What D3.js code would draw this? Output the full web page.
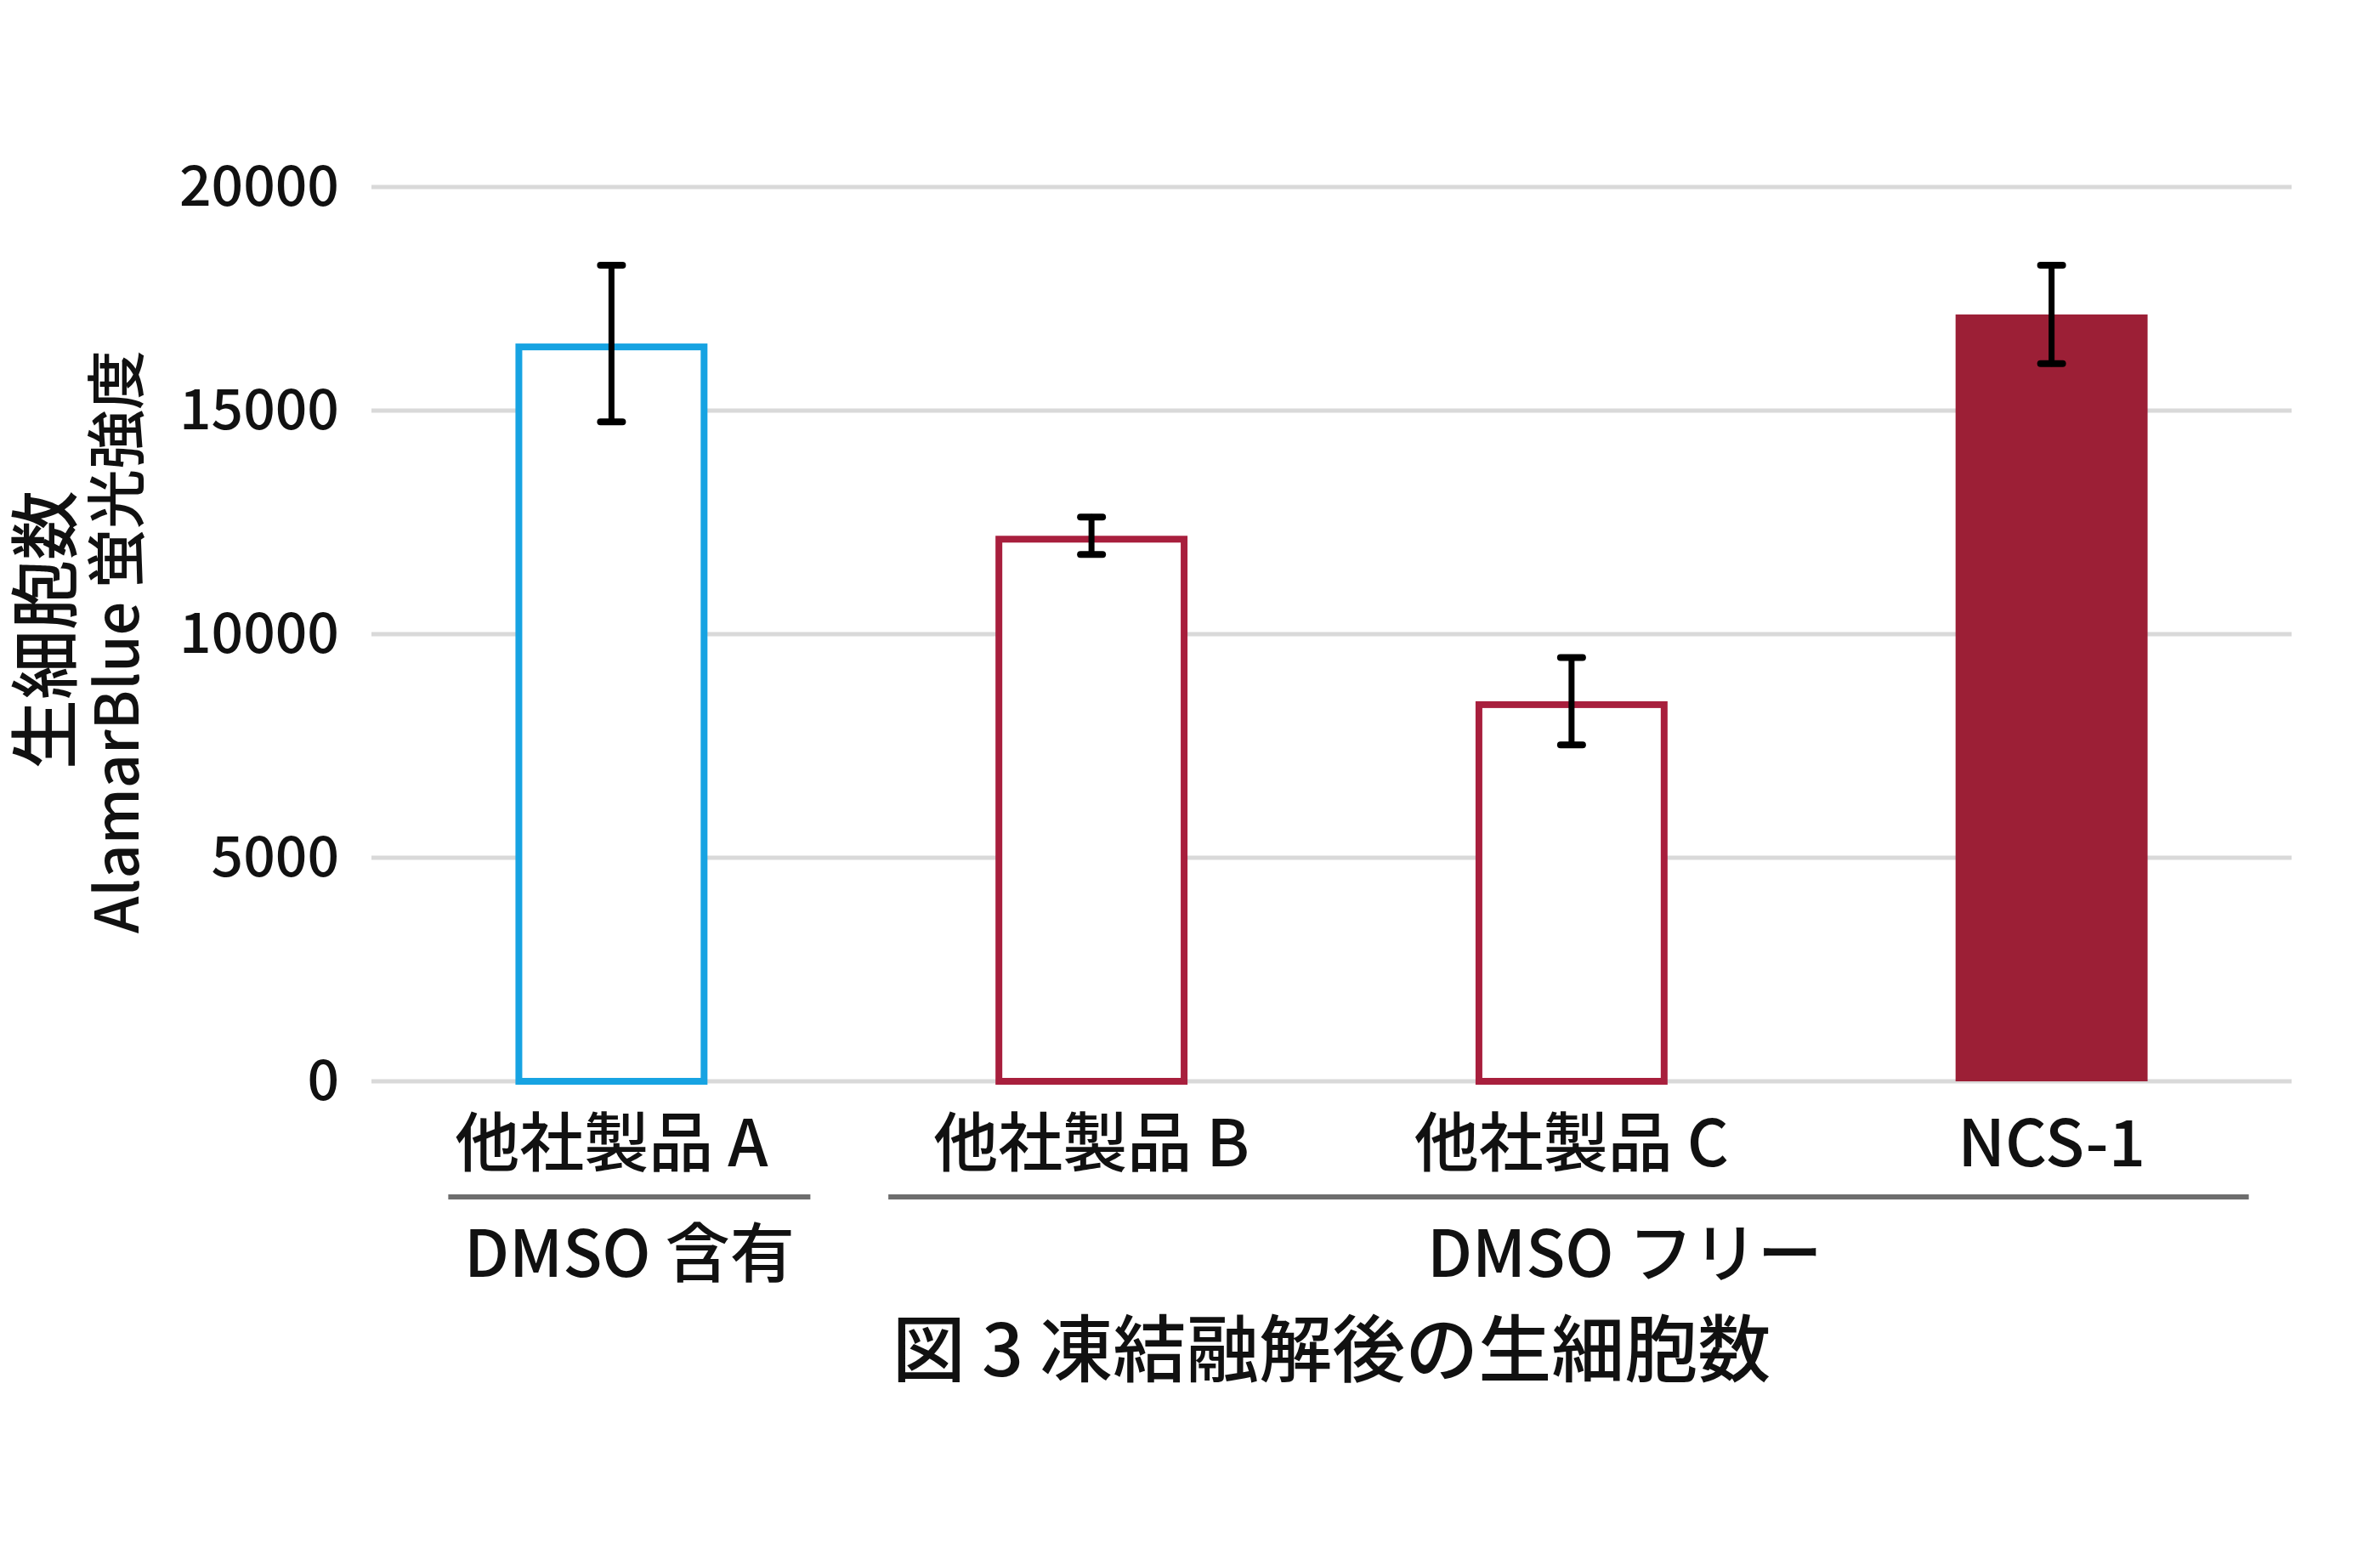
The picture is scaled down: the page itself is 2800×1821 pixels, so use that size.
<!DOCTYPE html>
<html>
<head>
<meta charset="utf-8">
<script src="https://cdn.jsdelivr.net/npm/d3@7"></script>
<style>
  html, body { margin: 0; padding: 0; background: #ffffff; }
  svg { display: block; }
  text { font-family: "Noto Sans CJK JP", "Noto Sans", sans-serif; fill: #111; font-weight: 500; }
</style>
</head>
<body>
<script>
// ---- data ----
const categories = ["他社製品 A", "他社製品 B", "他社製品 C", "NCS-1"];
const values = [16500, 12200, 8500, 17150];
const errors = [1750, 420, 975, 1100];
const barStyles = ["outlineBlue", "outlineRed", "outlineRed", "filledRed"];
const yTicks = [0, 5000, 10000, 15000, 20000];
const groupNames = ["DMSO 含有", "DMSO フリー"];
const groupFirst = [0, 1];
const groupLast = [0, 3];
const yTitle = "生細胞数";
const ySubTitle = "AlamarBlue 蛍光強度";
const chartTitle = "図 3 凍結融解後の生細胞数";

(function () {
// ---- layout ----
const W = 2800, H = 1821;
const mLeft = 437, mRight = 2696, mTop = 220, mBottom = 1272;

const svg = d3.select("body").append("svg").attr("width", W).attr("height", H);
svg.append("rect").attr("width", W).attr("height", H).attr("fill", "#fff");

const x = d3.scaleBand().domain(categories).range([mLeft, mRight]).paddingInner(0.6).paddingOuter(0.3);
const y = d3.scaleLinear().domain([0, 20000]).range([mBottom, mTop]);

// gridlines
svg.append("g").selectAll("line").data(yTicks).join("line")
  .attr("x1", mLeft).attr("x2", mRight)
  .attr("y1", d => y(d)).attr("y2", d => y(d))
  .attr("stroke", "#d9d9d9").attr("stroke-width", 5);

// y tick labels
svg.append("g").selectAll("text").data(yTicks).join("text")
  .attr("x", 399).attr("y", d => y(d))
  .attr("dy", "0.33em")
  .attr("text-anchor", "end")
  .attr("font-size", 66)
  .text(d => d);

// bars
const colors = { outlineBlue: "#17a3e2", outlineRed: "#a81f3d", filledRed: "#9c1f36" };
const sw = 8;
const bw = x.bandwidth();
svg.append("g").selectAll("rect").data(categories).join("rect")
  .attr("x", (d, i) => barStyles[i] === "filledRed" ? x(d) : x(d) + sw / 2)
  .attr("width", (d, i) => barStyles[i] === "filledRed" ? bw : bw - sw)
  .attr("y", (d, i) => barStyles[i] === "filledRed" ? y(values[i]) : y(values[i]) + sw / 2)
  .attr("height", (d, i) => barStyles[i] === "filledRed" ? y(0) - y(values[i]) : y(0) - y(values[i]) - sw / 2)
  .attr("fill", (d, i) => barStyles[i] === "filledRed" ? colors.filledRed : "#fff")
  .attr("stroke", (d, i) => barStyles[i] === "filledRed" ? "none" : colors[barStyles[i]])
  .attr("stroke-width", sw);

// error bars
const eb = svg.append("g").attr("stroke", "#000").attr("stroke-linecap", "round");
const capW = 26;
categories.forEach((c, i) => {
  const cx = x(c) + bw / 2;
  const hi = y(values[i] + errors[i]), lo = y(values[i] - errors[i]);
  eb.append("line").attr("x1", cx).attr("x2", cx).attr("y1", hi).attr("y2", lo).attr("stroke-width", 7);
  eb.append("line").attr("x1", cx - capW / 2).attr("x2", cx + capW / 2).attr("y1", hi).attr("y2", hi).attr("stroke-width", 8);
  eb.append("line").attr("x1", cx - capW / 2).attr("x2", cx + capW / 2).attr("y1", lo).attr("y2", lo).attr("stroke-width", 8);
});

// category labels
svg.append("g").selectAll("text").data(categories).join("text")
  .attr("x", d => x(d) + bw / 2).attr("y", 1372)
  .attr("text-anchor", "middle")
  .attr("font-size", 76)
  .text(d => d);

// group lines and labels
const padL = [-192, -239], padR = [234, 232], labelShift = [0, 66];
groupNames.forEach((g, i) => {
  const x1 = x(categories[groupFirst[i]]) + bw / 2 + padL[i];
  const x2 = x(categories[groupLast[i]]) + bw / 2 + padR[i];
  svg.append("line").attr("x1", x1).attr("x2", x2).attr("y1", 1408).attr("y2", 1408)
    .attr("stroke", "#6e6e6e").attr("stroke-width", 6);
  svg.append("text").attr("x", (x1 + x2) / 2 + labelShift[i]).attr("y", 1502)
    .attr("text-anchor", "middle").attr("font-size", 76).text(g);
});

// y-axis titles
svg.append("text")
  .attr("transform", "translate(47, 741) rotate(-90)")
  .attr("text-anchor", "middle").attr("dominant-baseline", "central")
  .attr("font-size", 82).text(yTitle);
svg.append("text")
  .attr("transform", "translate(132, 755) rotate(-90)")
  .attr("text-anchor", "middle").attr("dominant-baseline", "central")
  .attr("font-size", 70).text(ySubTitle);

// chart title
svg.append("text")
  .attr("x", (mLeft + mRight) / 2).attr("y", 1619)
  .attr("text-anchor", "middle").attr("font-size", 86).text(chartTitle);
})();
</script>
</body>
</html>
